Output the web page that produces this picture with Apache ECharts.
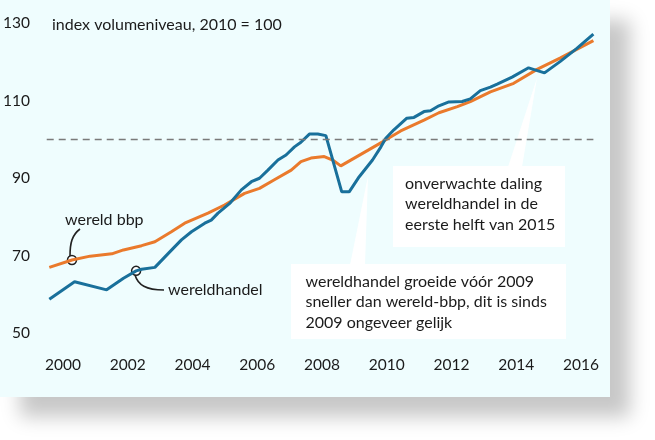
<!DOCTYPE html>
<html>
<head>
<meta charset="utf-8">
<script src="https://cdn.jsdelivr.net/npm/echarts@6/dist/echarts.min.js"></script>
<style>html,body{margin:0;padding:0;background:#fff;}#c{width:655px;height:440px;}</style>
</head>
<body>
<div id="c"></div>
<script>
// Data (x = position in years, y = index 2010 = 100)
const tradeYears = [1999.58,2000.36,2001.35,2001.87,2002.26,2002.43,2002.84,2003.30,2003.66,2003.97,2004.38,2004.58,2004.79,2005.15,2005.51,2005.82,2006.07,2006.33,2006.64,2006.89,2007.15,2007.35,2007.61,2007.87,2008.12,2008.61,2008.84,2009.15,2009.56,2009.82,2009.97,2010.22,2010.62,2010.84,2011.15,2011.35,2011.61,2011.92,2012.33,2012.58,2012.89,2013.20,2013.41,2013.87,2014.38,2014.87,2015.35,2015.87,2016.38];
const tradeValues = [58.8,63.3,61.2,64.2,66.1,66.5,67.0,71.0,74.1,76.2,78.4,79.2,81.0,83.5,87.0,89.1,90.0,92.1,94.7,96.0,98.1,99.3,101.4,101.4,101.0,86.5,86.5,90.4,94.7,98.1,100.3,102.5,105.5,105.7,107.2,107.4,108.7,109.7,109.8,110.5,112.6,113.5,114.3,116.1,118.5,117.2,120.1,123.5,127.2];
const gdpYears = [1999.58,2000.28,2000.84,2001.51,2001.87,2002.43,2002.84,2003.35,2003.76,2004.48,2004.99,2005.61,2006.07,2006.53,2007.05,2007.35,2007.66,2008.07,2008.33,2008.58,2009.87,2010.43,2011.15,2011.61,2012.18,2012.58,2013.20,2013.92,2014.64,2015.35,2016.38];
const gdpValues = [67.0,68.9,69.9,70.5,71.5,72.6,73.6,76.2,78.4,81.0,83.1,86.1,87.4,89.6,92.1,94.3,95.2,95.6,94.7,93.2,99.4,102.2,105.0,106.9,108.5,109.8,112.3,114.5,118.1,121.0,125.5];
const xTickLabels = [2000,2002,2004,2006,2008,2010,2012,2014,2016];
const yTickLabels = [50,70,90,110,130];
const seriesNames = ['wereldhandel','wereld bbp'];
const referenceLevel = 100;
const referenceSpan = [1999.5, 2016.38];
const titleText = 'index volumeniveau, 2010 = 100';
const note1 = ['onverwachte daling','wereldhandel in de','eerste helft van 2015'];
const note2 = ['wereldhandel groeide vóór 2009','sneller dan wereld-bbp, dit is sinds','2009 ongeveer gelijk'];

const FONT = 'Lato';
const TXT = '#1b1b1b';
const BLUE = '#19709b';
const ORANGE = '#ea7a2c';

const chart = echarts.init(document.getElementById('c'), null, {renderer:'canvas', width:655, height:440});

function pairs(xs, ys){ return xs.map((x,i)=>[x, ys[i]]); }
function txt(x, y, s, z){ return {type:'text', z: z||20, style:{x:x, y:y, text:s, fill:TXT, font:'16px ' + FONT, textVerticalAlign:'middle', textAlign:'left'}}; }

const graphics = [
  {type:'rect', z:-10, shape:{x:0,y:0,width:610,height:397}, style:{fill:'#effdfe', shadowColor:'rgba(0,0,0,0.22)', shadowBlur:18, shadowOffsetX:20, shadowOffsetY:20}},
  {type:'rect', z:-9, shape:{x:0,y:0,width:610,height:397}, style:{fill:'#effdfe'}},
  // callout wedges and boxes
  {type:'polygon', z:1, shape:{points:[[508,167],[522,167],[537,78]]}, style:{fill:'#ffffff'}},
  {type:'rect', z:1, shape:{x:393,y:166,width:172,height:81}, style:{fill:'#ffffff'}},
  {type:'polygon', z:1, shape:{points:[[350,265],[365,265],[368,176]]}, style:{fill:'#ffffff'}},
  {type:'rect', z:1, shape:{x:291,y:264,width:275,height:75}, style:{fill:'#ffffff'}},
  txt(52, 25, titleText),
  txt(65, 220, seriesNames[1]),
  txt(168, 290, seriesNames[0]),
  {type:'bezierCurve', z:15, shape:{x1:80,y1:229,cpx1:72,cpy1:235,cpx2:70,cpy2:243,x2:70,y2:256}, style:{stroke:'#222',lineWidth:1.6,fill:null}},
  {type:'bezierCurve', z:15, shape:{x1:135,y1:275,cpx1:138,cpy1:285,cpx2:146,cpy2:290,x2:164,y2:290}, style:{stroke:'#222',lineWidth:1.6,fill:null}}
];
note1.forEach((s,i)=>graphics.push(txt(405, 183.5 + i*20.5, s)));
note2.forEach((s,i)=>graphics.push(txt(305.5, 281.5 + i*20.5, s)));

const option = {
  backgroundColor:'#ffffff',
  animation:false,
  grid:{left:44.75, right:54.5, top:23.25, bottom:106.75},
  xAxis:{type:'value', min:1999.5, max:2016.6,
    axisLine:{show:false}, axisTick:{show:false}, splitLine:{show:false},
    axisLabel:{customValues:xTickLabels, margin:24, color:TXT, fontFamily:FONT, fontSize:15.5, formatter:v=>String(Math.round(v))}},
  yAxis:{type:'value', min:50, max:130,
    axisLine:{show:false}, axisTick:{show:false}, splitLine:{show:false},
    axisLabel:{customValues:yTickLabels, margin:16.75, color:TXT, fontFamily:FONT, fontSize:15.5}},
  graphic:graphics,
  series:[
    {name:seriesNames[1], type:'line', z:5, data:pairs(gdpYears,gdpValues), showSymbol:false, symbol:'none',
      lineStyle:{color:ORANGE,width:3}, itemStyle:{color:ORANGE},
      markPoint:{symbol:'circle', symbolSize:9, label:{show:false}, itemStyle:{color:'#ffffff',borderColor:'#222',borderWidth:1.5},
        data:[{coord:[gdpYears[1],gdpValues[1]]}]}},
    {name:seriesNames[0], type:'line', z:6, data:pairs(tradeYears,tradeValues), showSymbol:false, symbol:'none',
      lineStyle:{color:BLUE,width:3}, itemStyle:{color:BLUE},
      markPoint:{symbol:'circle', symbolSize:9, label:{show:false}, itemStyle:{color:'#ffffff',borderColor:'#222',borderWidth:1.5},
        data:[{coord:[tradeYears[4],tradeValues[4]]}]}}
  ]
};
chart.setOption(option);
// dashed reference line at index 100, positioned through the chart's own scales
const p1 = chart.convertToPixel({gridIndex:0}, [referenceSpan[0], referenceLevel]);
const p2 = chart.convertToPixel({gridIndex:0}, [referenceSpan[1], referenceLevel]);
graphics.push({type:'line', z:30, shape:{x1:p1[0], y1:p1[1], x2:p2[0], y2:p2[1]},
  style:{stroke:'#7a7a7a', lineWidth:1.3, lineDash:[7,5]}});
chart.setOption({graphic:graphics});
</script>
</body>
</html>
